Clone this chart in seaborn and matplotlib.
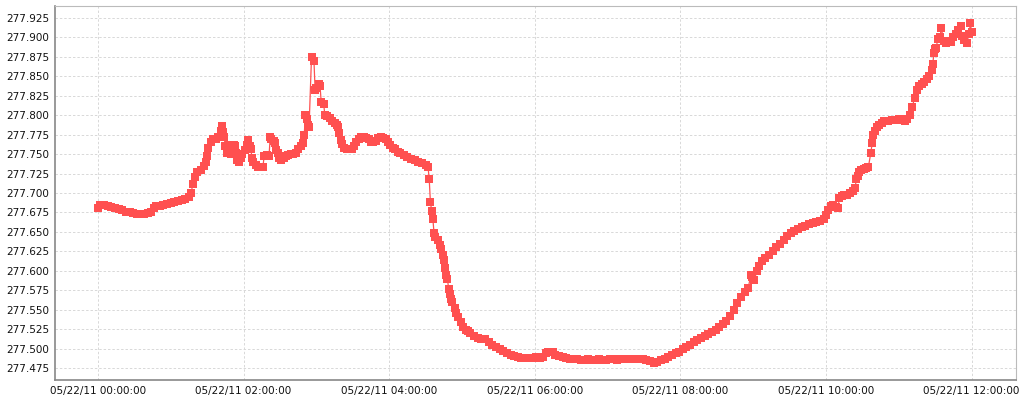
import pandas as pd
import numpy as np
import matplotlib
matplotlib.use('Agg')
import matplotlib.pyplot as plt
import matplotlib.dates as mdates
from matplotlib.ticker import FormatStrFormatter, MultipleLocator
import seaborn as sns

# minutes after 05/22/11 00:00:00 and the readings at those times
minutes = [
    0, 2, 5, 8, 11, 14, 17, 20, 23, 26, 29, 32, 35, 38, 41, 44, 46, 48, 51, 54,
    57, 60, 63, 66, 69, 72, 75, 77, 78, 80, 82, 85, 87, 89, 90, 91, 93, 95, 97, 99,
    101, 102, 103, 104, 105, 106, 107, 108, 109, 110, 111, 112, 113, 114, 115, 116, 118, 119, 121, 123,
    124, 125, 126, 127, 128, 130, 132, 134, 136, 137, 139, 141, 142, 143, 145, 146, 147, 148, 149, 151,
    153, 155, 157, 159, 161, 163, 165, 167, 169, 170, 171, 172, 173, 174, 176, 178, 179, 180, 182, 183,
    184, 186, 187, 189, 191, 193, 195, 197, 198, 199, 200, 201, 203, 205, 207, 209, 211, 213, 215, 217,
    219, 221, 223, 225, 227, 229, 231, 233, 235, 237, 239, 241, 243, 245, 247, 249, 252, 255, 258, 261,
    264, 267, 270, 272, 273, 274, 275, 276, 277, 278, 280, 282, 283, 284, 285, 286, 287, 288, 289, 290,
    291, 292, 294, 295, 297, 299, 301, 303, 305, 307, 310, 313, 316, 319, 322, 325, 328, 331, 334, 337,
    340, 343, 346, 349, 352, 355, 358, 361, 364, 367, 369, 371, 373, 375, 377, 380, 383, 386, 389, 392,
    395, 398, 401, 404, 407, 410, 413, 416, 419, 422, 425, 428, 431, 434, 437, 440, 443, 446, 449, 452,
    455, 458, 461, 464, 467, 470, 473, 476, 479, 482, 485, 488, 491, 494, 497, 500, 503, 506, 509, 512,
    515, 518, 521, 524, 527, 530, 533, 536, 538, 539, 541, 543, 545, 547, 550, 553, 556, 559, 562, 565,
    568, 571, 574, 577, 580, 583, 586, 589, 592, 595, 598, 600, 602, 604, 606, 608, 610, 611, 613, 615,
    617, 620, 622, 624, 625, 626, 627, 629, 631, 633, 635, 637, 638, 639, 640, 642, 644, 646, 648, 651,
    654, 657, 660, 663, 665, 667, 669, 671, 673, 675, 677, 679, 681, 683, 685, 687, 688, 689, 690, 691,
    692, 694, 695, 697, 699, 701, 703, 705, 707, 709, 711, 712, 714, 716, 718, 719, 720,
]
values = [
    277.681, 277.685, 277.685, 277.683, 277.682, 277.681, 277.680, 277.678, 277.676, 277.675,
    277.674, 277.673, 277.673, 277.673, 277.674, 277.676, 277.681, 277.683, 277.683, 277.684,
    277.686, 277.687, 277.688, 277.690, 277.691, 277.692, 277.695, 277.700, 277.712, 277.720,
    277.727, 277.730, 277.735, 277.740, 277.748, 277.758, 277.765, 277.770, 277.770, 277.772,
    277.780, 277.786, 277.778, 277.772, 277.760, 277.752, 277.755, 277.762, 277.758, 277.750,
    277.755, 277.762, 277.760, 277.752, 277.742, 277.740, 277.745, 277.750, 277.755, 277.762,
    277.768, 277.760, 277.756, 277.745, 277.740, 277.736, 277.734, 277.733, 277.734, 277.748,
    277.749, 277.748, 277.772, 277.770, 277.767, 277.764, 277.755, 277.752, 277.745, 277.743,
    277.745, 277.747, 277.749, 277.750, 277.750, 277.752, 277.756, 277.760, 277.764, 277.775,
    277.800, 277.795, 277.788, 277.785, 277.875, 277.870, 277.832, 277.835, 277.840, 277.838,
    277.817, 277.815, 277.800, 277.799, 277.796, 277.793, 277.790, 277.788, 277.785, 277.777,
    277.768, 277.763, 277.758, 277.756, 277.756, 277.757, 277.760, 277.765, 277.770, 277.772,
    277.772, 277.771, 277.770, 277.766, 277.765, 277.767, 277.771, 277.772, 277.771, 277.769,
    277.765, 277.762, 277.758, 277.756, 277.753, 277.751, 277.749, 277.746, 277.744, 277.742,
    277.740, 277.738, 277.736, 277.734, 277.718, 277.688, 277.677, 277.667, 277.648, 277.643,
    277.639, 277.633, 277.628, 277.620, 277.614, 277.603, 277.595, 277.590, 277.577, 277.570,
    277.564, 277.560, 277.552, 277.546, 277.540, 277.534, 277.528, 277.524, 277.522, 277.520,
    277.516, 277.513, 277.512, 277.512, 277.509, 277.505, 277.502, 277.500, 277.497, 277.494,
    277.492, 277.490, 277.489, 277.488, 277.488, 277.488, 277.488, 277.489, 277.488, 277.489,
    277.494, 277.496, 277.496, 277.495, 277.492, 277.490, 277.489, 277.488, 277.487, 277.486,
    277.486, 277.485, 277.485, 277.486, 277.485, 277.485, 277.486, 277.485, 277.485, 277.486,
    277.486, 277.485, 277.486, 277.486, 277.486, 277.487, 277.487, 277.487, 277.486, 277.485,
    277.484, 277.482, 277.483, 277.485, 277.487, 277.489, 277.492, 277.494, 277.496, 277.499,
    277.502, 277.505, 277.508, 277.511, 277.514, 277.516, 277.519, 277.521, 277.524, 277.528,
    277.531, 277.535, 277.542, 277.550, 277.558, 277.566, 277.573, 277.578, 277.595, 277.592,
    277.588, 277.600, 277.606, 277.612, 277.616, 277.620, 277.625, 277.630, 277.635, 277.640,
    277.645, 277.648, 277.651, 277.654, 277.656, 277.658, 277.660, 277.662, 277.663, 277.664,
    277.667, 277.672, 277.678, 277.683, 277.684, 277.682, 277.681, 277.694, 277.696, 277.697,
    277.698, 277.700, 277.703, 277.706, 277.718, 277.722, 277.727, 277.730, 277.731, 277.732,
    277.734, 277.752, 277.764, 277.775, 277.780, 277.785, 277.788, 277.790, 277.792, 277.793,
    277.794, 277.794, 277.795, 277.794, 277.793, 277.795, 277.800, 277.810, 277.822, 277.833,
    277.838, 277.840, 277.843, 277.846, 277.850, 277.858, 277.866, 277.880, 277.885, 277.887,
    277.898, 277.900, 277.912, 277.896, 277.893, 277.895, 277.894, 277.900, 277.905, 277.910,
    277.915, 277.902, 277.897, 277.893, 277.905, 277.918, 277.907,
]

start = pd.Timestamp('2011-05-22 00:00:00')
df = pd.DataFrame({'time': start + pd.to_timedelta(minutes, unit='min'),
                   'value': values})

sns.set_style('white')
plt.rcParams['font.family'] = ['DejaVu Sans']

fig = plt.figure(figsize=(10.24, 4), dpi=100)
ax = fig.add_axes([55 / 1024, 20 / 400, 961 / 1024, 374 / 400])

red = '#ff5050'
sns.lineplot(data=df, x='time', y='value', ax=ax, estimator=None,
             color=red, linewidth=0.9, marker='s', markersize=6.3,
             markeredgewidth=0, markerfacecolor=red)

ax.set_xlim(start - pd.Timedelta(minutes=35.4), start + pd.Timedelta(minutes=756.6))
ax.set_ylim(277.4596, 277.9404)

ax.xaxis.set_major_locator(mdates.HourLocator(byhour=range(0, 24, 2)))
ax.xaxis.set_major_formatter(mdates.DateFormatter('%m/%d/%y %H:%M:%S'))
ax.yaxis.set_major_locator(MultipleLocator(0.025))
ax.yaxis.set_major_formatter(FormatStrFormatter('%.3f'))

ax.grid(True, color='#d8d8d8', linestyle=(0, (2.5, 2)), linewidth=0.7)
ax.set_axisbelow(True)
ax.set_xlabel('')
ax.set_ylabel('')
ax.tick_params(axis='both', labelsize=7.5, length=2, width=0.8, color='#888888',
               labelcolor='#111111', pad=2)

for side in ['left', 'bottom']:
    ax.spines[side].set_color('#888888')
    ax.spines[side].set_linewidth(1.2)
for side in ['top', 'right']:
    ax.spines[side].set_color('#bbbbbb')
    ax.spines[side].set_linewidth(0.8)

fig.savefig('out.png', dpi=100)
